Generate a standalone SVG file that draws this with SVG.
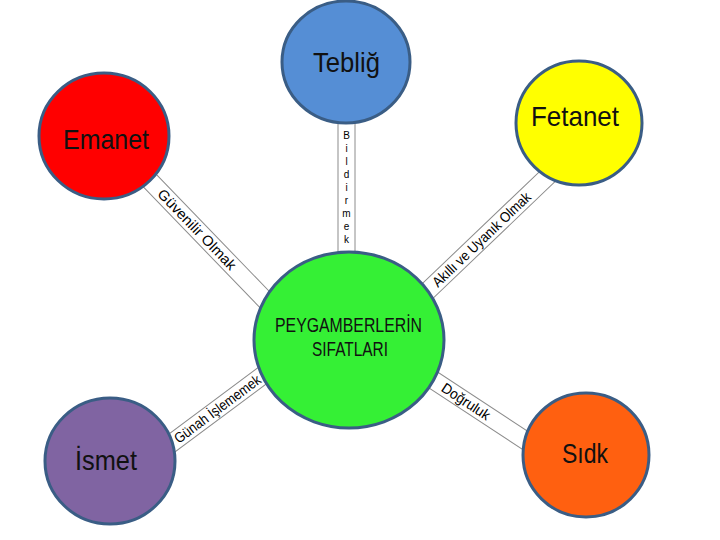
<svg xmlns="http://www.w3.org/2000/svg" width="720" height="540" viewBox="0 0 720 540">
<style>
.bg{fill:#ffffff}
.node{stroke:#3a5d85;stroke-width:3}
.strip{fill:#ffffff;stroke:#8c8c8c;stroke-width:1}
.lbl{font-family:"Liberation Sans",Arial,sans-serif;font-size:28px;fill:#111111;text-anchor:middle}
.mid{font-family:"Liberation Sans",Arial,sans-serif;font-size:21px;fill:#111111;text-anchor:middle}
.clbl{font-family:"Liberation Sans",Arial,sans-serif;font-size:14.5px;fill:#000000;text-anchor:middle}
.vl{font-family:"Liberation Sans",Arial,sans-serif;font-size:10px;fill:#000000;text-anchor:middle}
</style>
<rect class="bg" x="0" y="0" width="720" height="540"/>
<g id="connectors">
  <g id="c-bildirmek">
    <rect class="strip" x="338" y="110" width="17" height="155"/>
    <text class="vl" x="346.5" y="139">B</text>
    <text class="vl" x="346.5" y="152">i</text>
    <text class="vl" x="346.5" y="165">l</text>
    <text class="vl" x="346.5" y="178">d</text>
    <text class="vl" x="346.5" y="191">i</text>
    <text class="vl" x="346.5" y="204">r</text>
    <text class="vl" x="346.5" y="217">m</text>
    <text class="vl" x="346.5" y="230">e</text>
    <text class="vl" x="346.5" y="243">k</text>
  </g>
  <g id="c-guvenilir" transform="translate(197,229.5) rotate(46)">
    <rect class="strip" x="-90" y="-9" width="200" height="18"/>
    <text class="clbl" x="0" y="5" textLength="106" lengthAdjust="spacingAndGlyphs">Güvenilir Olmak</text>
  </g>
  <g id="c-akilli" transform="translate(481.5,239.5) rotate(-43.7)">
    <rect class="strip" x="-100" y="-9" width="220" height="18"/>
    <text class="clbl" x="0" y="5" textLength="130" lengthAdjust="spacingAndGlyphs">Akıllı ve Uyanık Olmak</text>
  </g>
  <g id="c-gunah" transform="translate(217.5,409) rotate(-36.7)">
    <rect class="strip" x="-80" y="-9" width="160" height="18"/>
    <text class="clbl" x="0" y="5" textLength="104" lengthAdjust="spacingAndGlyphs">Günah İşlememek</text>
  </g>
  <g id="c-dogruluk" transform="translate(466,401.5) rotate(33.3)">
    <rect class="strip" x="-70" y="-9" width="170" height="18"/>
    <text class="clbl" x="0" y="5" textLength="55" lengthAdjust="spacingAndGlyphs">Doğruluk</text>
  </g>
</g>
<g id="node-teblig">
  <ellipse class="node" cx="346" cy="62" rx="64" ry="61" fill="#558ed5"/>
  <text class="lbl" x="346.5" y="72" textLength="67" lengthAdjust="spacingAndGlyphs">Tebliğ</text>
</g>
<g id="node-fetanet">
  <ellipse class="node" cx="579" cy="123" rx="63" ry="62" fill="#ffff00"/>
  <text class="lbl" x="575" y="126" textLength="88" lengthAdjust="spacingAndGlyphs">Fetanet</text>
</g>
<g id="node-emanet">
  <ellipse class="node" cx="104" cy="136" rx="65" ry="63" fill="#ff0000"/>
  <text class="lbl" x="106" y="149" textLength="86" lengthAdjust="spacingAndGlyphs">Emanet</text>
</g>
<g id="node-center">
  <ellipse class="node" cx="349" cy="340" rx="95" ry="88" fill="#35f035"/>
  <text class="mid" x="348.5" y="332" textLength="147" lengthAdjust="spacingAndGlyphs">PEYGAMBERLERİN</text>
  <text class="mid" x="350" y="356" textLength="76" lengthAdjust="spacingAndGlyphs">SIFATLARI</text>
</g>
<g id="node-ismet">
  <ellipse class="node" cx="110" cy="461" rx="65" ry="63" fill="#8064a2"/>
  <text class="lbl" x="106" y="470" textLength="62" lengthAdjust="spacingAndGlyphs">İsmet</text>
</g>
<g id="node-sidk">
  <ellipse class="node" cx="586" cy="455" rx="63" ry="62" fill="#ff6010"/>
  <text class="lbl" x="585" y="463" textLength="46" lengthAdjust="spacingAndGlyphs">Sıdk</text>
</g>
</svg>
